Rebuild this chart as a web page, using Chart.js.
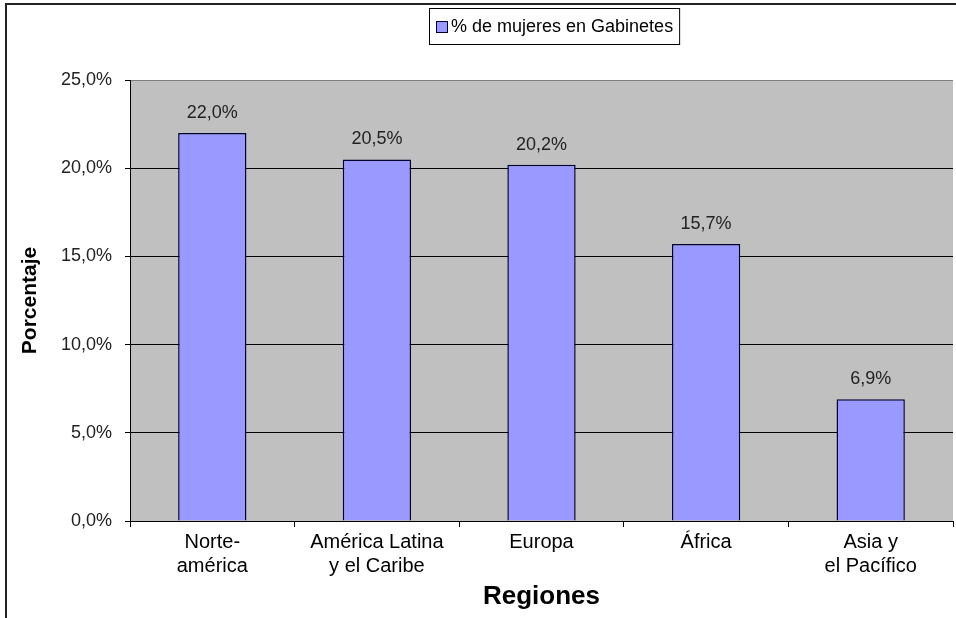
<!DOCTYPE html>
<html>
<head>
<meta charset="utf-8">
<script src="https://cdn.jsdelivr.net/npm/chart.js@4.4.1/dist/chart.umd.min.js"></script>
<style>
  html, body { margin: 0; padding: 0; background: #fff; }
  #wrap { width: 956px; height: 618px; }
</style>
</head>
<body>
<div id="wrap"><canvas id="chart" width="956" height="618"></canvas></div>
<script>
// ===== datos =====
const regiones = [['Norte-', 'américa'], ['América Latina', 'y el Caribe'], ['Europa'], ['África'], ['Asia y', 'el Pacífico']]
const mujeresGabinetes = [22.0, 20.5, 20.2, 15.7, 6.9]
const etiquetasValor = ['22,0%', '20,5%', '20,2%', '15,7%', '6,9%']
const ticksY = ['0,0%', '5,0%', '10,0%', '15,0%', '20,0%', '25,0%']
const serieNombre = '% de mujeres en Gabinetes'

const FONT = "'Liberation Sans', Arial, sans-serif"

// fondo gris del área de trazado + marco exterior
const plotBg = {
  id: 'plotBg',
  beforeDraw(chart) {
    const { ctx, chartArea: a } = chart
    ctx.save()
    ctx.fillStyle = '#C0C0C0'
    ctx.fillRect(a.left, a.top, a.right - a.left, a.bottom - a.top)
    // marco de la imagen
    ctx.strokeStyle = '#222'
    ctx.lineWidth = 2
    ctx.beginPath()
    ctx.moveTo(6, 618)
    ctx.lineTo(6, 4)
    ctx.lineTo(956, 4)
    ctx.stroke()
    ctx.restore()
  }
}

// etiquetas de valor sobre las barras
const valueLabels = {
  id: 'valueLabels',
  afterDatasetsDraw(chart) {
    const { ctx } = chart
    const meta = chart.getDatasetMeta(0)
    ctx.save()
    ctx.font = `18px ${FONT}`
    ctx.fillStyle = '#222'
    ctx.textAlign = 'center'
    ctx.textBaseline = 'middle'
    meta.data.forEach((bar, i) => {
      ctx.fillText(etiquetasValor[i], bar.x, bar.y - 20)
    })
    ctx.restore()
  }
}

// leyenda con recuadro (estilo Excel)
const boxLegend = {
  id: 'boxLegend',
  afterDraw(chart) {
    const { ctx } = chart
    const ds = chart.data.datasets[0]
    ctx.save()
    ctx.font = `18px ${FONT}`
    const tw = ctx.measureText(ds.label).width
    const x = 429, y = 8, h = 36
    const w = 7 + 12 + 3 + tw + 6
    ctx.fillStyle = '#fff'
    ctx.fillRect(x, y, w, h)
    ctx.strokeStyle = '#000'
    ctx.lineWidth = 1
    ctx.strokeRect(x + 0.5, y + 0.5, w, h)
    ctx.fillStyle = ds.backgroundColor
    ctx.fillRect(x + 7, y + 13, 12, 12)
    ctx.strokeStyle = ds.borderColor
    ctx.strokeRect(x + 7.5, y + 13.5, 11, 11)
    ctx.fillStyle = '#000'
    ctx.textBaseline = 'middle'
    ctx.fillText(ds.label, x + 22, y + 19)
    ctx.restore()
  }
}

new Chart(document.getElementById('chart'), {
  type: 'bar',
  data: {
    labels: regiones,
    datasets: [{
      label: serieNombre,
      data: mujeresGabinetes,
      backgroundColor: '#9999FF',
      borderColor: '#000033',
      borderWidth: 1.5,
      barPercentage: 0.415,
      categoryPercentage: 1
    }]
  },
  options: {
    responsive: false,
    animation: false,
    devicePixelRatio: 1,
    layout: { padding: { left: 0, top: 80, right: 3, bottom: 0 } },
    plugins: { legend: { display: false }, tooltip: { enabled: false } },
    scales: {
      x: {
        afterFit: s => { s.height = 97 },
        grid: { drawOnChartArea: false, color: '#000', tickLength: 6, offset: true },
        border: { color: '#000', width: 1 },
        ticks: { color: '#000', font: { family: FONT, size: 20 }, padding: 3, maxRotation: 0, autoSkip: false },
        title: { display: true, text: 'Regiones', color: '#000', font: { family: FONT, size: 26, weight: 'bold' }, padding: { top: 0, bottom: 6 } }
      },
      y: {
        min: 0, max: 25,
        afterFit: s => { s.width = 130 },
        ticks: {
          stepSize: 5,
          color: '#222',
          font: { family: FONT, size: 18 },
          padding: 13,
          callback: (v, i) => ticksY[i]
        },
        grid: {
          color: ctx => (ctx.tick && ctx.tick.value === 25 ? '#808080' : '#000'),
          tickColor: '#000',
          tickLength: 5
        },
        border: { color: '#000', width: 1 },
        title: { display: true, text: 'Porcentaje', color: '#000', font: { family: FONT, size: 21, weight: 'bold' }, padding: { top: 18, bottom: 0 } }
      }
    }
  },
  plugins: [plotBg, valueLabels, boxLegend]
})
</script>
</body>
</html>
